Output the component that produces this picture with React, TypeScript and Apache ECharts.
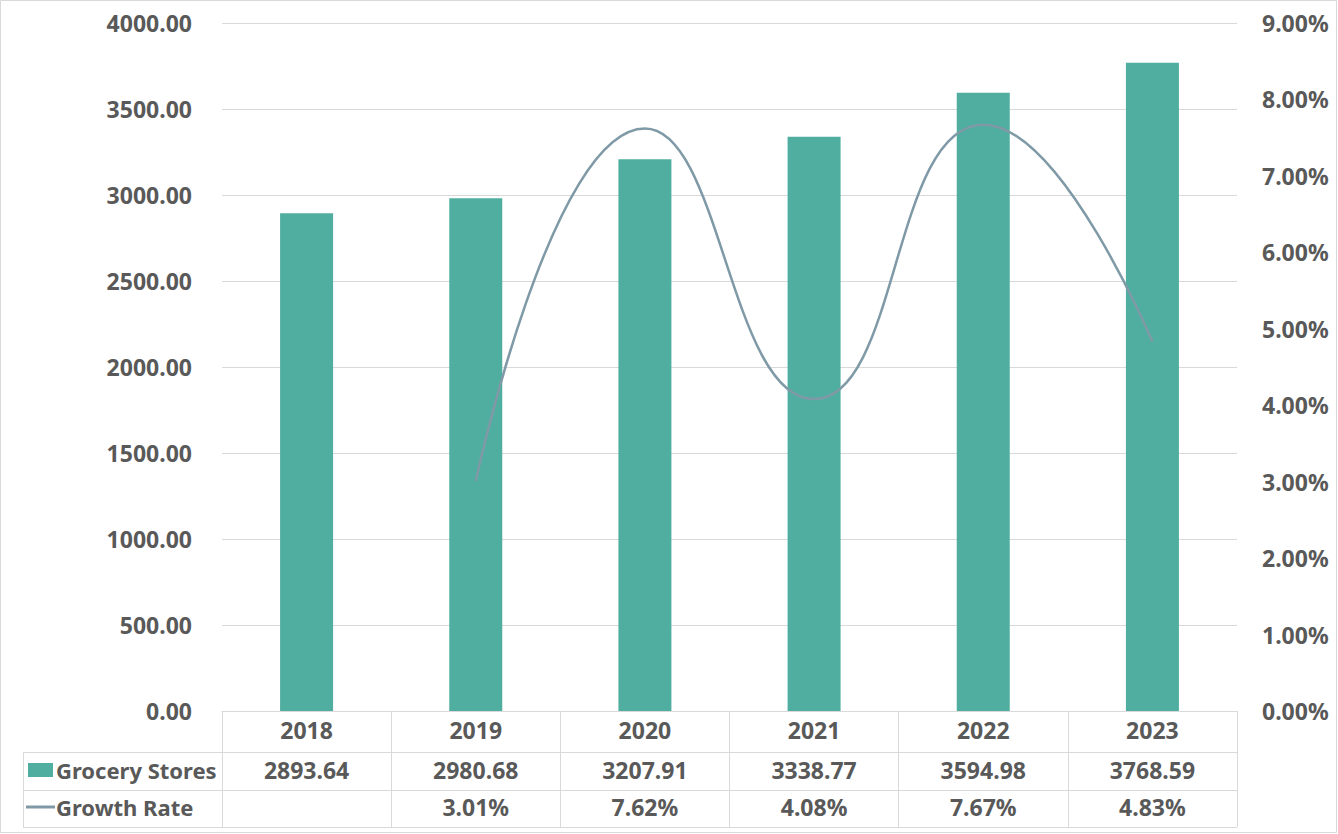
import React, { useEffect, useRef } from "react";
import * as echarts from "echarts";

const categories = ["2018", "2019", "2020", "2021", "2022", "2023"];
const groceryStores = [2893.64, 2980.68, 3207.91, 3338.77, 3594.98, 3768.59];
const growthRate: (number | null)[] = [null, 3.01, 7.62, 4.08, 7.67, 4.83];
const seriesNames = ["Grocery Stores", "Growth Rate"];

const W = 1338;
const H = 834;
const GRID_LEFT = 222;
const GRID_RIGHT = 101;
const GRID_TOP = 23;
const GRID_BOTTOM = 123;
const TABLE_LEFT = 23;
const ROW1 = 752;
const ROW2 = 790;
const ROW3 = 827;

const BAR_COLOR = "#4fae9f";
const LINE_COLOR = "#7f9aa6";
const TEXT_COLOR = "#595959";
const GRID_COLOR = "#d9d9d9";
const FONT = "'Noto Sans', sans-serif";
const FS = 23;

export default function App() {
  const ref = useRef<HTMLDivElement>(null);
  useEffect(() => {
    document.body.style.margin = "0";
    if (!ref.current) return;
    const chart = echarts.init(ref.current, null, { renderer: "svg" });
    const plotW = W - GRID_LEFT - GRID_RIGHT;
    const cw = plotW / categories.length;
    const gridRight = W - GRID_RIGHT;

    const textStyle = { fill: TEXT_COLOR, font: `bold ${FS}px ${FONT}` };
    const nameStyle = { fill: TEXT_COLOR, font: `bold 22px ${FONT}` };
    const graphic: any[] = [
      {
        type: "rect",
        shape: { x: 0.5, y: 0.5, width: W - 2, height: H - 2 },
        style: { fill: "none", stroke: GRID_COLOR, lineWidth: 1 },
        silent: true,
      },
    ];
    [ROW1, ROW2, ROW3].forEach((y) =>
      graphic.push({
        type: "line",
        shape: { x1: TABLE_LEFT, y1: y + 0.5, x2: gridRight, y2: y + 0.5 },
        style: { stroke: GRID_COLOR, lineWidth: 1 },
      })
    );
    graphic.push({
      type: "line",
      shape: { x1: TABLE_LEFT + 0.5, y1: ROW1, x2: TABLE_LEFT + 0.5, y2: ROW3 },
      style: { stroke: GRID_COLOR, lineWidth: 1 },
    });
    const r1c = (ROW1 + ROW2) / 2 - 1;
    const r2c = (ROW2 + ROW3) / 2 - 1.5;
    // legend keys
    graphic.push({
      type: "rect",
      shape: { x: 28, y: r1c - 7, width: 25, height: 14 },
      style: { fill: BAR_COLOR },
    });
    graphic.push({
      type: "line",
      shape: { x1: 26, y1: r2c, x2: 55, y2: r2c },
      style: { stroke: LINE_COLOR, lineWidth: 3 },
    });
    graphic.push({
      type: "text",
      x: 56,
      y: r1c,
      style: { ...nameStyle, text: seriesNames[0], textAlign: "left", textVerticalAlign: "middle" },
    });
    graphic.push({
      type: "text",
      x: 56,
      y: r2c,
      style: { ...nameStyle, text: seriesNames[1], textAlign: "left", textVerticalAlign: "middle" },
    });
    categories.forEach((_, i) => {
      const cx = GRID_LEFT + cw * (i + 0.5);
      graphic.push({
        type: "text",
        x: cx,
        y: r1c,
        style: { ...textStyle, text: groceryStores[i].toFixed(2), textAlign: "center", textVerticalAlign: "middle" },
      });
      const g = growthRate[i];
      if (g !== null) {
        graphic.push({
          type: "text",
          x: cx,
          y: r2c,
          style: { ...textStyle, text: g.toFixed(2) + "%", textAlign: "center", textVerticalAlign: "middle" },
        });
      }
    });

    chart.setOption({
      animation: false,
      grid: { left: GRID_LEFT, right: GRID_RIGHT, top: GRID_TOP, bottom: GRID_BOTTOM, containLabel: false },
      xAxis: {
        type: "category",
        data: categories,
        boundaryGap: true,
        axisLine: { show: true, lineStyle: { color: GRID_COLOR, width: 1 } },
        axisTick: { show: true, length: ROW3 - (H - GRID_BOTTOM), lineStyle: { color: GRID_COLOR, width: 1 } },
        axisLabel: {
          color: TEXT_COLOR,
          fontFamily: FONT,
          fontWeight: "bold",
          fontSize: FS,
          margin: 19,
          verticalAlign: "middle",
        },
      },
      yAxis: [
        {
          type: "value",
          min: 0,
          max: 4000,
          interval: 500,
          axisLine: { show: false },
          axisTick: { show: false },
          splitLine: { show: true, lineStyle: { color: GRID_COLOR, width: 1 } },
          axisLabel: {
            color: TEXT_COLOR,
            fontFamily: FONT,
            fontWeight: "bold",
            fontSize: FS,
            margin: 30,
            formatter: (v: number) => v.toFixed(2),
          },
        },
        {
          type: "value",
          min: 0,
          max: 9,
          interval: 1,
          axisLine: { show: false },
          axisTick: { show: false },
          splitLine: { show: false },
          axisLabel: {
            color: TEXT_COLOR,
            fontFamily: FONT,
            fontWeight: "bold",
            fontSize: FS,
            margin: 25,
            formatter: (v: number) => v.toFixed(2) + "%",
          },
        },
      ],
      series: [
        {
          name: seriesNames[0],
          type: "bar",
          data: groceryStores,
          barWidth: 53,
          itemStyle: { color: BAR_COLOR },
          yAxisIndex: 0,
        },
        {
          name: seriesNames[1],
          type: "line",
          data: growthRate,
          yAxisIndex: 1,
          smooth: 0.5,
          showSymbol: false,
          symbol: "none",
          connectNulls: false,
          lineStyle: { color: LINE_COLOR, width: 2.5 },
        },
      ],
      graphic,
    });
    return () => chart.dispose();
  }, []);
  return <div ref={ref} style={{ width: W, height: H }} />;
}
